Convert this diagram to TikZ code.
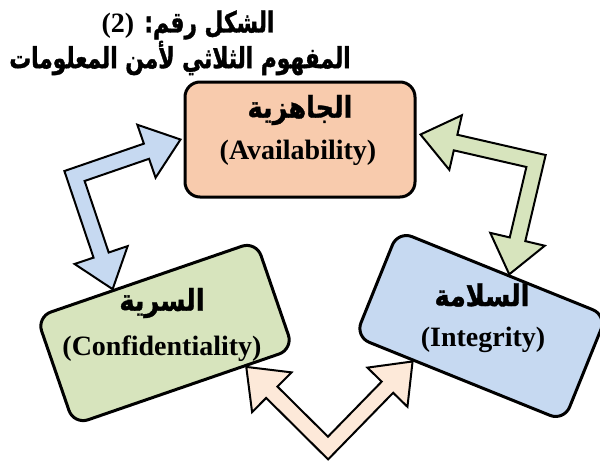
\documentclass[tikz,border=0pt]{standalone}
\usepackage{fontspec}
\setmainfont{Liberation Serif}
\newfontfamily\arabicfont[Script=Arabic,FakeStretch=0.85,
  BoldFeatures={FakeBold=1.2}]{DejaVu Sans}
\newfontfamily\arabictitle[Script=Arabic,FakeStretch=0.75,
  BoldFeatures={FakeBold=1.2}]{DejaVu Sans}
\TeXXeTstate=1
\usetikzlibrary{calc}
\definecolor{availorange}{HTML}{F8CBAD}
\definecolor{confgreen}{HTML}{D7E4BD}
\definecolor{integblue}{HTML}{C6D9F1}
\definecolor{lightpeach}{HTML}{FDE9D9}

% bent double block arrow: #1 fill, #2 first tip, #3 bend, #4 second tip
\newcommand{\bentarrow}[4]{%
  \path ($(#2)!36pt!(#3)$) coordinate (b1) ($(#4)!36pt!(#3)$) coordinate (b2);
  \path ($(#3)!8pt!-90:(#2)$) coordinate (p1) ($(b1)!8pt!-90:(#2)$) coordinate (q1)
        ($(#3)!8pt!90:(#2)$) coordinate (p2) ($(b1)!8pt!90:(#2)$) coordinate (q2)
        ($(#3)!8pt!90:(#4)$) coordinate (p3) ($(b2)!8pt!90:(#4)$) coordinate (q3)
        ($(#3)!8pt!-90:(#4)$) coordinate (p4) ($(b2)!8pt!-90:(#4)$) coordinate (q4);
  \draw[arrowline,fill=#1] (#2) -- ($(b1)!28pt!-90:(#2)$) -- (q1)
    -- (intersection of p1--q1 and p3--q3) -- (q3) -- ($(b2)!28pt!90:(#4)$)
    -- (#4) -- ($(b2)!28pt!-90:(#4)$) -- (q4)
    -- (intersection of p4--q4 and p2--q2) -- (q2) -- ($(b1)!28pt!90:(#2)$) -- cycle;
}

\begin{document}
\begin{tikzpicture}[x=1pt,y=-1pt,
    box/.style={draw,line width=3pt,rounded corners=15pt,
      minimum width=230pt,minimum height=115pt,inner sep=0pt},
    artext/.style={font=\arabicfont\fontsize{30}{34}\bfseries,inner sep=0pt},
    titletext/.style={font=\arabictitle\fontsize{29}{33}\bfseries,inner sep=0pt},
    entext/.style={font=\fontsize{28}{32}\bfseries,inner sep=0pt},
    arrowline/.style={draw=black,line width=2pt,line join=miter}]
  \useasboundingbox (0,0) rectangle (600,464);

  % title
  \node[titletext] (title1) at (188,25)
    {\beginR الشكل رقم: \beginL{\rmfamily\fontsize{28}{32}\selectfont(2)}\endL\endR};
  \node[titletext] (title2) at (180,58) {\beginR المفهوم الثلاثي لأمن المعلومات\endR};

  % the three boxes
  \node[box,fill=availorange] (avail) at (300,139.5) {};
  \node[box,fill=confgreen,rotate=19,minimum width=232pt,minimum height=114pt]
    (conf) at (165,333) {};
  \node[box,fill=integblue,rotate=-22,minimum width=225pt,minimum height=114pt]
    (integ) at (481,326) {};

  \node[artext] (availar) at (300,110) {\beginR الجاهزية\endR};
  \node[entext] (availen) at (298,153) {(Availability)};
  \node[artext] (confar) at (162,303) {\beginR السرية\endR};
  \node[entext] (confen) at (162,349) {(Confidentiality)};
  \node[artext] (integar) at (482,295) {\beginR السلامة\endR};
  \node[entext] (integen) at (483,340) {(Integrity)};

  % arrows between the boxes
  \coordinate (btip1) at ([xshift=-3pt]avail.west);
  \coordinate (bbend) at (74.5,176);
  \coordinate (btip2) at ($(conf.north)!0.3!(conf.north west)$);
  \bentarrow{integblue}{btip1}{bbend}{btip2}

  \coordinate (gtip1) at ([xshift=4pt,yshift=5pt]avail.east);
  \coordinate (gbend) at (536,161);
  \coordinate (gtip2) at ($(integ.north)!0.06!(integ.north east)$);
  \bentarrow{confgreen}{gtip1}{gbend}{gtip2}

  \coordinate (ptip1) at ($(conf.south)!0.56!(conf.south east)$);
  \coordinate (pbend) at (328,448);
  \coordinate (ptip2) at ($(integ.south)!0.44!(integ.south west)$);
  \bentarrow{lightpeach}{ptip1}{pbend}{ptip2}
\end{tikzpicture}
\end{document}
